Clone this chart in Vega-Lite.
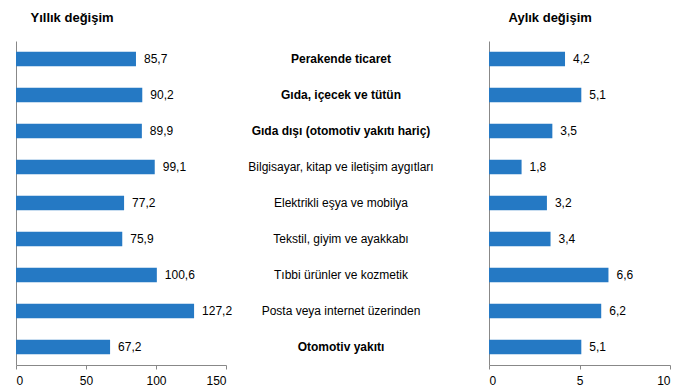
{
  "$schema": "https://vega.github.io/schema/vega-lite/v6.json",
  "width": 687,
  "height": 391,
  "padding": {"left": 15, "top": 12, "right": 0, "bottom": 0},
  "background": "white",
  "bounds": "flush",
  "spacing": 0,
  "config": {
    "font": "Liberation Sans",
    "view": {"stroke": null},
    "locale": {"number": {"decimal": ",", "thousands": ".", "grouping": [3], "currency": ["", " TL"]}},
    "axis": {"labelFont": "Liberation Sans", "labelFontSize": 12, "labelColor": "#000", "domainColor": "#888", "tickColor": "#888", "grid": false},
    "title": {"font": "Liberation Sans", "fontSize": 13, "fontWeight": "bold", "color": "#000", "anchor": "start"}
  },
  "data": {"values": [
    {"kategori": "Perakende ticaret", "tur": "toplam", "yillik": 85.7, "aylik": 4.2},
    {"kategori": "Gıda, içecek ve tütün", "tur": "toplam", "yillik": 90.2, "aylik": 5.1},
    {"kategori": "Gıda dışı (otomotiv yakıtı hariç)", "tur": "toplam", "yillik": 89.9, "aylik": 3.5},
    {"kategori": "Bilgisayar, kitap ve iletişim aygıtları", "tur": "alt", "yillik": 99.1, "aylik": 1.8},
    {"kategori": "Elektrikli eşya ve mobilya", "tur": "alt", "yillik": 77.2, "aylik": 3.2},
    {"kategori": "Tekstil, giyim ve ayakkabı", "tur": "alt", "yillik": 75.9, "aylik": 3.4},
    {"kategori": "Tıbbi ürünler ve kozmetik", "tur": "alt", "yillik": 100.6, "aylik": 6.6},
    {"kategori": "Posta veya internet üzerinden", "tur": "alt", "yillik": 127.2, "aylik": 6.2},
    {"kategori": "Otomotiv yakıtı", "tur": "toplam", "yillik": 67.2, "aylik": 5.1}
  ]},
  "hconcat": [
    {
      "width": 210,
      "height": 324,
      "title": {"text": "Yıllık değişim", "dx": 15, "offset": 16},
      "encoding": {
        "y": {"field": "kategori", "type": "nominal", "sort": null, "scale": {"paddingInner": 0.6, "paddingOuter": 0.3},
              "axis": {"labels": false, "ticks": false, "title": null, "domainColor": "#888"}},
        "x": {"field": "yillik", "type": "quantitative", "scale": {"domain": [0, 150], "nice": false},
              "axis": {"values": [0, 50, 100, 150], "title": null, "tickSize": 4, "labelPadding": 6}}
      },
      "layer": [
        {"mark": {"type": "bar", "color": "#2579C4"}},
        {"mark": {"type": "text", "align": "left", "dx": 8, "fontSize": 12, "color": "#000"},
         "encoding": {"text": {"field": "yillik", "type": "quantitative", "format": ".1f"}}}
      ]
    },
    {
      "width": 263,
      "height": 324,
      "encoding": {
        "y": {"field": "kategori", "type": "nominal",
              "sort": ["Perakende ticaret", "Gıda, içecek ve tütün", "Gıda dışı (otomotiv yakıtı hariç)", "Bilgisayar, kitap ve iletişim aygıtları", "Elektrikli eşya ve mobilya", "Tekstil, giyim ve ayakkabı", "Tıbbi ürünler ve kozmetik", "Posta veya internet üzerinden", "Otomotiv yakıtı"],
              "scale": {"paddingInner": 0.6, "paddingOuter": 0.3}, "axis": null},
        "x": {"value": 115},
        "text": {"field": "kategori"}
      },
      "layer": [
        {"transform": [{"filter": "datum.tur == 'toplam'"}],
         "mark": {"type": "text", "fontSize": 12, "color": "#000", "fontWeight": "bold"}},
        {"transform": [{"filter": "datum.tur != 'toplam'"}],
         "mark": {"type": "text", "fontSize": 12, "color": "#000", "fontWeight": "normal"}}
      ]
    },
    {
      "width": 181,
      "height": 324,
      "title": {"text": "Aylık değişim", "dx": 20, "offset": 16},
      "encoding": {
        "y": {"field": "kategori", "type": "nominal", "sort": null, "scale": {"paddingInner": 0.6, "paddingOuter": 0.3},
              "axis": {"labels": false, "ticks": false, "title": null, "domainColor": "#888"}},
        "x": {"field": "aylik", "type": "quantitative", "scale": {"domain": [0, 10], "nice": false},
              "axis": {"values": [0, 5, 10], "title": null, "tickSize": 4, "labelPadding": 6}}
      },
      "layer": [
        {"mark": {"type": "bar", "color": "#2579C4"}},
        {"mark": {"type": "text", "align": "left", "dx": 8, "fontSize": 12, "color": "#000"},
         "encoding": {"text": {"field": "aylik", "type": "quantitative", "format": ".1f"}}}
      ]
    }
  ]
}
